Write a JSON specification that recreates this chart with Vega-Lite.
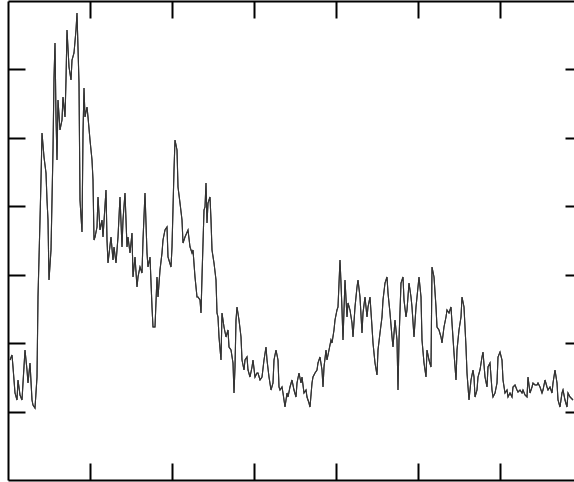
{
  "$schema": "https://vega.github.io/schema/vega-lite/v6.json",
  "autosize": "none",
  "padding": {"left": 8, "top": 1, "right": 0, "bottom": 2},
  "width": 574,
  "height": 479,
  "background": "white",
  "config": {
    "view": {"stroke": null},
    "axis": {"labels": false, "title": null, "grid": false, "domainColor": "#000", "domainWidth": 2, "tickColor": "#000", "tickWidth": 2, "tickSize": -17}
  },
  "data": {"values": [
    {"x":2,"y":120},{"x":4,"y":125},{"x":5,"y":113},{"x":7,"y":87},{"x":9,"y":80},{"x":10,"y":100},{"x":12,"y":85},{"x":14,"y":80},{"x":15,"y":97},{"x":17,"y":130},{"x":19,"y":110},{"x":20,"y":97},{"x":22,"y":117},{"x":24,"y":80},{"x":25,"y":75},{"x":27,"y":72},{"x":29,"y":103},{"x":30,"y":183},{"x":32,"y":260},{"x":33,"y":300},{"x":34,"y":347},{"x":36,"y":323},{"x":38,"y":307},{"x":39,"y":280},{"x":40,"y":260},{"x":41,"y":200},{"x":43,"y":230},{"x":44,"y":280},{"x":45,"y":330},{"x":46,"y":402},{"x":47,"y":437},{"x":48,"y":363},{"x":49,"y":320},{"x":50,"y":380},{"x":52,"y":350},{"x":54,"y":360},{"x":55,"y":383},{"x":57,"y":363},{"x":58,"y":400},{"x":59,"y":450},{"x":61,"y":413},{"x":63,"y":400},{"x":64,"y":420},{"x":66,"y":427},{"x":68,"y":450},{"x":69,"y":467},{"x":71,"y":397},{"x":72,"y":280},{"x":74,"y":248},{"x":75,"y":347},{"x":76,"y":392},{"x":77,"y":363},{"x":79,"y":373},{"x":80,"y":363},{"x":82,"y":340},{"x":84,"y":320},{"x":85,"y":300},{"x":86,"y":240},
    {"x":87,"y":243},{"x":89,"y":253},{"x":90,"y":283},{"x":92,"y":250},{"x":94,"y":260},{"x":95,"y":243},{"x":98,"y":290},{"x":99,"y":240},{"x":100,"y":217},{"x":103,"y":243},{"x":105,"y":220},{"x":106,"y":233},{"x":108,"y":217},{"x":110,"y":243},{"x":112,"y":283},{"x":114,"y":233},{"x":115,"y":260},{"x":117,"y":287},{"x":119,"y":233},{"x":120,"y":243},{"x":122,"y":227},{"x":124,"y":247},{"x":125,"y":203},{"x":127,"y":223},{"x":129,"y":193},{"x":130,"y":203},{"x":132,"y":213},{"x":134,"y":207},{"x":135,"y":240},{"x":137,"y":287},{"x":139,"y":227},{"x":140,"y":213},{"x":142,"y":223},{"x":144,"y":173},{"x":145,"y":153},{"x":147,"y":153},{"x":149,"y":203},{"x":150,"y":183},{"x":152,"y":210},{"x":154,"y":227},{"x":155,"y":240},{"x":157,"y":250},{"x":159,"y":253},{"x":160,"y":223},{"x":163,"y":213},{"x":164,"y":233},{"x":166,"y":310},{"x":167,"y":340},{"x":169,"y":330},{"x":170,"y":293},{"x":172,"y":277},{"x":174,"y":260},{"x":175,"y":237},{"x":177,"y":243},
    {"x":180,"y":250},{"x":182,"y":233},{"x":184,"y":227},{"x":185,"y":230},{"x":187,"y":203},{"x":189,"y":183},{"x":190,"y":183},{"x":192,"y":180},{"x":193,"y":167},{"x":194,"y":203},{"x":196,"y":270},{"x":197,"y":273},{"x":198,"y":297},{"x":199,"y":257},{"x":200,"y":277},{"x":202,"y":283},{"x":203,"y":260},{"x":204,"y":230},{"x":206,"y":217},{"x":208,"y":200},{"x":209,"y":167},{"x":210,"y":163},{"x":211,"y":143},{"x":213,"y":120},{"x":214,"y":167},{"x":216,"y":153},{"x":218,"y":143},{"x":220,"y":150},{"x":221,"y":133},{"x":223,"y":130},{"x":225,"y":117},{"x":226,"y":87},{"x":227,"y":113},{"x":228,"y":160},{"x":229,"y":173},{"x":231,"y":160},{"x":233,"y":143},{"x":234,"y":120},{"x":236,"y":110},{"x":237,"y":120},{"x":239,"y":123},{"x":240,"y":110},{"x":242,"y":103},{"x":244,"y":113},{"x":245,"y":120},{"x":247,"y":103},{"x":249,"y":107},{"x":250,"y":107},{"x":252,"y":100},{"x":254,"y":103},{"x":256,"y":120},{"x":258,"y":133},{"x":259,"y":120},{"x":261,"y":103},{"x":263,"y":90},{"x":265,"y":97},{"x":266,"y":120},{"x":268,"y":130},{"x":270,"y":120},{"x":271,"y":93},
    {"x":272,"y":90},{"x":274,"y":93},{"x":275,"y":87},{"x":277,"y":73},{"x":279,"y":87},{"x":280,"y":83},{"x":282,"y":93},{"x":284,"y":100},{"x":286,"y":90},{"x":288,"y":83},{"x":289,"y":97},{"x":291,"y":107},{"x":293,"y":97},{"x":294,"y":103},{"x":296,"y":87},{"x":298,"y":90},{"x":299,"y":83},{"x":301,"y":77},{"x":302,"y":73},{"x":304,"y":97},{"x":305,"y":103},{"x":307,"y":107},{"x":309,"y":110},{"x":310,"y":117},{"x":312,"y":123},{"x":314,"y":110},{"x":315,"y":93},{"x":316,"y":113},{"x":318,"y":130},{"x":319,"y":120},{"x":321,"y":130},{"x":323,"y":140},{"x":324,"y":137},{"x":326,"y":150},{"x":327,"y":160},{"x":329,"y":170},{"x":330,"y":173},{"x":332,"y":220},{"x":333,"y":197},{"x":334,"y":170},{"x":335,"y":140},{"x":337,"y":200},{"x":339,"y":163},{"x":340,"y":177},{"x":342,"y":170},{"x":344,"y":157},{"x":345,"y":143},{"x":347,"y":173},{"x":349,"y":193},{"x":350,"y":200},{"x":352,"y":183},{"x":354,"y":147},{"x":355,"y":167},{"x":357,"y":183},{"x":359,"y":163},{"x":360,"y":173},{"x":362,"y":183},{"x":364,"y":153},{"x":365,"y":137},{"x":367,"y":117},
    {"x":369,"y":105},{"x":370,"y":130},{"x":372,"y":147},{"x":374,"y":163},{"x":375,"y":180},{"x":377,"y":197},{"x":379,"y":203},{"x":380,"y":187},{"x":382,"y":167},{"x":384,"y":143},{"x":385,"y":133},{"x":387,"y":160},{"x":389,"y":140},{"x":390,"y":90},{"x":391,"y":140},{"x":393,"y":197},{"x":395,"y":203},{"x":396,"y":180},{"x":398,"y":163},{"x":399,"y":170},{"x":401,"y":197},{"x":403,"y":183},{"x":404,"y":173},{"x":406,"y":143},{"x":408,"y":173},{"x":409,"y":183},{"x":411,"y":203},{"x":413,"y":183},{"x":414,"y":140},{"x":416,"y":117},{"x":418,"y":103},{"x":419,"y":130},{"x":421,"y":120},{"x":423,"y":113},{"x":424,"y":213},{"x":426,"y":203},{"x":428,"y":173},{"x":429,"y":153},{"x":431,"y":150},{"x":433,"y":143},{"x":434,"y":137},{"x":436,"y":153},{"x":438,"y":163},{"x":439,"y":170},{"x":441,"y":167},{"x":443,"y":173},{"x":444,"y":157},{"x":446,"y":127},{"x":448,"y":100},{"x":449,"y":130},{"x":451,"y":150},{"x":453,"y":163},{"x":454,"y":183},{"x":456,"y":173},{"x":458,"y":133},{"x":459,"y":107},{"x":461,"y":80},{"x":463,"y":100},{"x":465,"y":110},{"x":466,"y":103},
    {"x":467,"y":83},{"x":469,"y":90},{"x":470,"y":103},{"x":472,"y":110},{"x":474,"y":123},{"x":475,"y":128},{"x":477,"y":103},{"x":479,"y":93},{"x":480,"y":113},{"x":482,"y":117},{"x":484,"y":90},{"x":485,"y":83},{"x":487,"y":87},{"x":489,"y":97},{"x":490,"y":123},{"x":492,"y":128},{"x":494,"y":120},{"x":495,"y":100},{"x":497,"y":87},{"x":499,"y":90},{"x":500,"y":83},{"x":502,"y":87},{"x":504,"y":83},{"x":505,"y":93},{"x":507,"y":95},{"x":509,"y":90},{"x":510,"y":88},{"x":512,"y":90},{"x":514,"y":87},{"x":515,"y":90},{"x":517,"y":85},{"x":519,"y":83},{"x":520,"y":103},{"x":522,"y":87},{"x":524,"y":93},{"x":525,"y":97},{"x":527,"y":95},{"x":529,"y":95},{"x":530,"y":97},{"x":532,"y":93},{"x":534,"y":87},{"x":535,"y":90},{"x":537,"y":100},{"x":539,"y":93},{"x":540,"y":90},{"x":542,"y":93},{"x":544,"y":87},{"x":545,"y":97},{"x":547,"y":110},{"x":549,"y":97},{"x":550,"y":80},{"x":552,"y":73},{"x":554,"y":87},{"x":555,"y":90},{"x":557,"y":80},{"x":559,"y":73},{"x":560,"y":87},{"x":562,"y":83},{"x":565,"y":80}
  ]},
  "layer": [
    {
      "mark": {"type": "line", "color": "#333", "strokeWidth": 1.1},
      "encoding": {
        "x": {"field": "x", "type": "quantitative", "scale": {"domain": [0, 574], "nice": false, "zero": false}, "axis": {"orient": "bottom", "values": [82, 164, 246, 328, 410, 492]}},
        "y": {"field": "y", "type": "quantitative", "scale": {"domain": [0, 479], "nice": false}, "axis": {"orient": "left", "values": [68.5, 137, 205.5, 274, 342.5, 411]}}
      }
    },
    {
      "mark": {"type": "line", "color": "#333", "strokeWidth": 1.1},
      "encoding": {
        "x": {"field": "x", "type": "quantitative", "axis": {"orient": "top", "values": [82, 164, 246, 328, 410, 492]}},
        "y": {"field": "y", "type": "quantitative", "axis": {"orient": "right", "values": [68.5, 137, 205.5, 274, 342.5, 411]}}
      }
    }
  ],
  "resolve": {"axis": {"x": "independent", "y": "independent"}}
}
